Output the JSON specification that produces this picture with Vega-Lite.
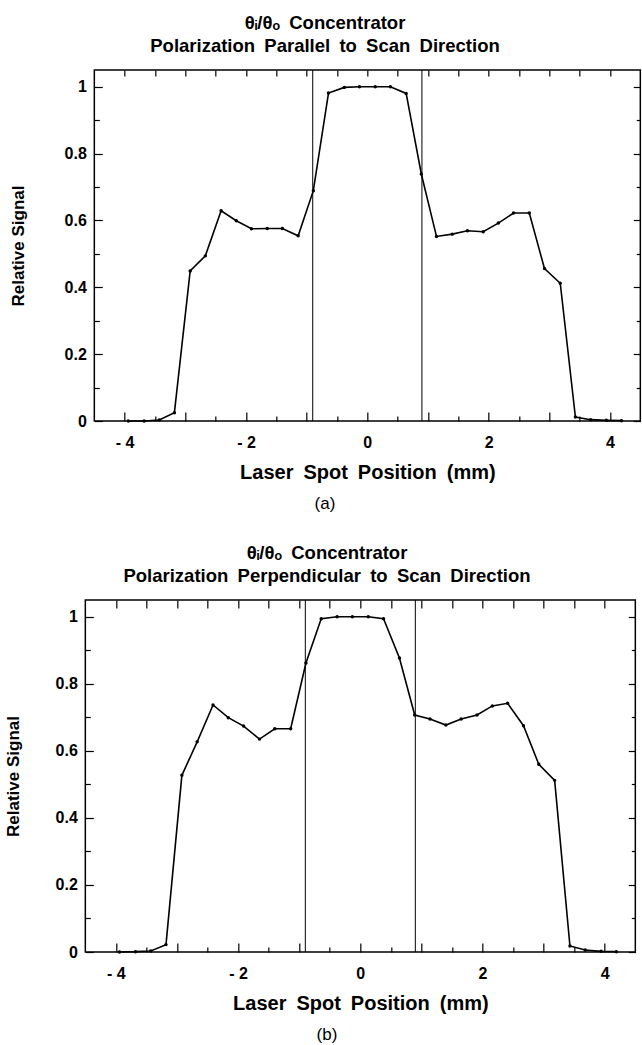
{
  "$schema": "https://vega.github.io/schema/vega-lite/v6.json",
  "background": "white",
  "padding": {"left": 3, "top": 14, "right": 0, "bottom": 0},
  "spacing": 32,
  "center": true,
  "config": {
    "view": {"stroke": "black", "strokeWidth": 1.5},
    "font": "Liberation Sans",
    "title": {"font": "Liberation Sans", "color": "black"},
    "axis": {
      "domain": false, "grid": false, "tickColor": "black", "tickWidth": 1.2,
      "labelFont": "Liberation Sans", "labelFontWeight": "bold", "labelFontSize": 16, "labelColor": "black",
      "titleFont": "Liberation Sans", "titleFontWeight": "bold", "titleFontSize": 17, "titleColor": "black"
    }
  },
  "datasets": {
    "a": [
      {"x": -3.94, "signal": 0.0}, {"x": -3.68, "signal": 0.0}, {"x": -3.43, "signal": 0.003}, {"x": -3.18, "signal": 0.025},
      {"x": -2.92, "signal": 0.449}, {"x": -2.67, "signal": 0.494}, {"x": -2.41, "signal": 0.629}, {"x": -2.16, "signal": 0.599},
      {"x": -1.91, "signal": 0.575}, {"x": -1.65, "signal": 0.576}, {"x": -1.40, "signal": 0.576}, {"x": -1.14, "signal": 0.554},
      {"x": -0.89, "signal": 0.689}, {"x": -0.64, "signal": 0.981}, {"x": -0.38, "signal": 0.998}, {"x": -0.13, "signal": 1.0},
      {"x": 0.13, "signal": 1.0}, {"x": 0.38, "signal": 1.0}, {"x": 0.64, "signal": 0.980}, {"x": 0.89, "signal": 0.739},
      {"x": 1.14, "signal": 0.552}, {"x": 1.40, "signal": 0.559}, {"x": 1.65, "signal": 0.569}, {"x": 1.91, "signal": 0.566},
      {"x": 2.16, "signal": 0.592}, {"x": 2.41, "signal": 0.622}, {"x": 2.67, "signal": 0.622}, {"x": 2.92, "signal": 0.456},
      {"x": 3.18, "signal": 0.412}, {"x": 3.43, "signal": 0.012}, {"x": 3.68, "signal": 0.004}, {"x": 3.94, "signal": 0.002},
      {"x": 4.19, "signal": 0.001}
    ],
    "b": [
      {"x": -3.94, "signal": 0.0}, {"x": -3.68, "signal": 0.001}, {"x": -3.43, "signal": 0.003}, {"x": -3.18, "signal": 0.022},
      {"x": -2.92, "signal": 0.527}, {"x": -2.67, "signal": 0.627}, {"x": -2.41, "signal": 0.737}, {"x": -2.16, "signal": 0.699},
      {"x": -1.91, "signal": 0.674}, {"x": -1.65, "signal": 0.635}, {"x": -1.40, "signal": 0.666}, {"x": -1.14, "signal": 0.666},
      {"x": -0.89, "signal": 0.862}, {"x": -0.64, "signal": 0.994}, {"x": -0.38, "signal": 1.0}, {"x": -0.13, "signal": 1.0},
      {"x": 0.13, "signal": 1.0}, {"x": 0.38, "signal": 0.994}, {"x": 0.64, "signal": 0.877}, {"x": 0.89, "signal": 0.707},
      {"x": 1.14, "signal": 0.695}, {"x": 1.40, "signal": 0.677}, {"x": 1.65, "signal": 0.695}, {"x": 1.91, "signal": 0.707},
      {"x": 2.16, "signal": 0.734}, {"x": 2.41, "signal": 0.742}, {"x": 2.67, "signal": 0.675}, {"x": 2.92, "signal": 0.560},
      {"x": 3.18, "signal": 0.512}, {"x": 3.43, "signal": 0.018}, {"x": 3.68, "signal": 0.006}, {"x": 3.94, "signal": 0.002},
      {"x": 4.19, "signal": 0.001}
    ],
    "lines": [{"pos": -0.9}, {"pos": 0.9}]
  },
  "vconcat": [
    {
      "title": {"text": "(a)", "orient": "bottom", "anchor": "middle", "fontSize": 17, "fontWeight": "normal", "offset": 13},
      "vconcat": [
        {
          "title": {"text": ["θᵢ/θₒ\u2002Concentrator", "Polarization\u2002Parallel\u2002to\u2002Scan\u2002Direction"], "anchor": "middle", "fontSize": 18.5, "fontWeight": "bold", "lineHeight": 23, "offset": 13},
          "vconcat": [
            {
              "width": 546, "height": 351,
              "layer": [
                {
                  "data": {"name": "a"},
                  "mark": {"type": "line", "color": "black", "strokeWidth": 1.6},
                  "encoding": {
                    "x": {"field": "x", "type": "quantitative", "scale": {"domain": [-4.5, 4.5], "nice": false, "zero": false},
                      "axis": {"orient": "bottom", "values": [-4, -3.5, -3, -2.5, -2, -1.5, -1, -0.5, 0, 0.5, 1, 1.5, 2, 2.5, 3, 3.5, 4],
                        "tickSize": {"condition": {"test": "datum.value % 1 === 0", "value": -9}, "value": -5},
                        "labelExpr": "datum.value % 2 === 0 ? (datum.value < 0 ? '- ' + abs(datum.value) : '' + datum.value) : ''",
                        "labelPadding": 22, "title": "Laser\u2002Spot\u2002Position\u2002(mm)", "titleFontSize": 20, "titlePadding": 12}},
                    "y": {"field": "signal", "type": "quantitative", "scale": {"domain": [0, 1.05], "nice": false},
                      "axis": {"orient": "left", "values": [0, 0.1, 0.2, 0.3, 0.4, 0.5, 0.6, 0.7, 0.8, 0.9, 1],
                        "tickSize": {"condition": {"test": "round(datum.value * 10) % 2 === 0", "value": -8}, "value": -5},
                        "labelExpr": "round(datum.value * 10) % 2 === 0 ? format(datum.value, '~g') : ''",
                        "labelPadding": 16, "title": "Relative Signal", "titlePadding": 37}}
                  }
                },
                {
                  "data": {"name": "a"},
                  "mark": {"type": "point", "filled": true, "color": "black", "size": 12, "opacity": 1},
                  "encoding": {
                    "x": {"field": "x", "type": "quantitative",
                      "axis": {"orient": "top", "values": [-4, -3.5, -3, -2.5, -2, -1.5, -1, -0.5, 0, 0.5, 1, 1.5, 2, 2.5, 3, 3.5, 4], "tickSize": -6, "labels": false, "title": null}},
                    "y": {"field": "signal", "type": "quantitative",
                      "axis": {"orient": "right", "values": [0, 0.1, 0.2, 0.3, 0.4, 0.5, 0.6, 0.7, 0.8, 0.9, 1],
                        "tickSize": {"condition": {"test": "round(datum.value * 10) % 2 === 0", "value": -7}, "value": -4}, "labels": false, "title": null}}
                  }
                },
                {
                  "data": {"name": "lines"},
                  "mark": {"type": "rule", "color": "black", "strokeWidth": 1},
                  "encoding": {"x": {"field": "pos", "type": "quantitative", "axis": null}}
                }
              ],
              "resolve": {"axis": {"x": "independent", "y": "independent"}}
            }
          ]
        }
      ]
    },
    {
      "title": {"text": "(b)", "orient": "bottom", "anchor": "middle", "fontSize": 17, "fontWeight": "normal", "offset": 13},
      "vconcat": [
        {
          "title": {"text": ["θᵢ/θₒ\u2002Concentrator", "Polarization\u2002Perpendicular\u2002to\u2002Scan\u2002Direction"], "anchor": "middle", "fontSize": 18.5, "fontWeight": "bold", "lineHeight": 23, "offset": 13},
          "vconcat": [
            {
              "width": 550, "height": 352,
              "layer": [
                {
                  "data": {"name": "b"},
                  "mark": {"type": "line", "color": "black", "strokeWidth": 1.6},
                  "encoding": {
                    "x": {"field": "x", "type": "quantitative", "scale": {"domain": [-4.5, 4.5], "nice": false, "zero": false},
                      "axis": {"orient": "bottom", "values": [-4, -3.5, -3, -2.5, -2, -1.5, -1, -0.5, 0, 0.5, 1, 1.5, 2, 2.5, 3, 3.5, 4],
                        "tickSize": {"condition": {"test": "datum.value % 1 === 0", "value": -9}, "value": -5},
                        "labelExpr": "datum.value % 2 === 0 ? (datum.value < 0 ? '- ' + abs(datum.value) : '' + datum.value) : ''",
                        "labelPadding": 22, "title": "Laser\u2002Spot\u2002Position\u2002(mm)", "titleFontSize": 20, "titlePadding": 12}},
                    "y": {"field": "signal", "type": "quantitative", "scale": {"domain": [0, 1.05], "nice": false},
                      "axis": {"orient": "left", "values": [0, 0.1, 0.2, 0.3, 0.4, 0.5, 0.6, 0.7, 0.8, 0.9, 1],
                        "tickSize": {"condition": {"test": "round(datum.value * 10) % 2 === 0", "value": -8}, "value": -5},
                        "labelExpr": "round(datum.value * 10) % 2 === 0 ? format(datum.value, '~g') : ''",
                        "labelPadding": 16, "title": "Relative Signal", "titlePadding": 33}}
                  }
                },
                {
                  "data": {"name": "b"},
                  "mark": {"type": "point", "filled": true, "color": "black", "size": 12, "opacity": 1},
                  "encoding": {
                    "x": {"field": "x", "type": "quantitative",
                      "axis": {"orient": "top", "values": [-4, -3.5, -3, -2.5, -2, -1.5, -1, -0.5, 0, 0.5, 1, 1.5, 2, 2.5, 3, 3.5, 4], "tickSize": -8, "labels": false, "title": null}},
                    "y": {"field": "signal", "type": "quantitative",
                      "axis": {"orient": "right", "values": [0, 0.1, 0.2, 0.3, 0.4, 0.5, 0.6, 0.7, 0.8, 0.9, 1],
                        "tickSize": {"condition": {"test": "round(datum.value * 10) % 2 === 0", "value": -7}, "value": -4}, "labels": false, "title": null}}
                  }
                },
                {
                  "data": {"name": "lines"},
                  "mark": {"type": "rule", "color": "black", "strokeWidth": 1},
                  "encoding": {"x": {"field": "pos", "type": "quantitative", "axis": null}}
                },
                {
                  "data": {"name": "b"},
                  "mark": {"type": "point", "opacity": 0},
                  "encoding": {
                    "y": {"field": "signal", "type": "quantitative",
                      "axis": {"orient": "right", "values": [0, 1], "tickSize": 14, "tickColor": "transparent", "labels": false, "title": null}}
                  }
                }
              ],
              "resolve": {"axis": {"x": "independent", "y": "independent"}}
            }
          ]
        }
      ]
    }
  ]
}
